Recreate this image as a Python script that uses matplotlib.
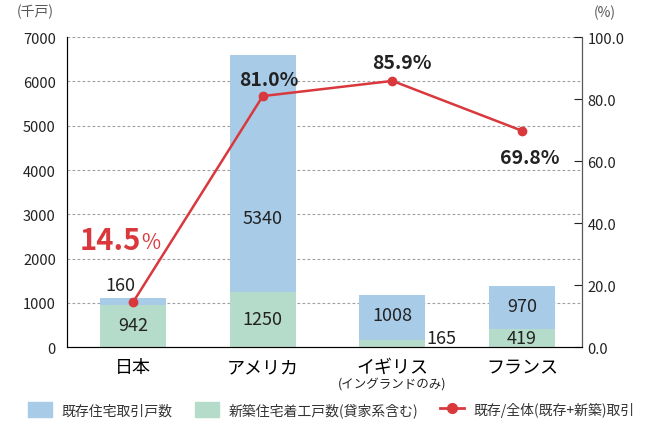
import matplotlib
matplotlib.use("Agg")
import matplotlib.pyplot as plt
from matplotlib.lines import Line2D
from matplotlib.patches import Patch

plt.rcParams['font.family'] = ['Noto Sans CJK JP', 'DejaVu Sans']

countries = ['日本', 'アメリカ', 'イギリス', 'フランス']
new_built = [942, 1250, 165, 419]
existing = [160, 5340, 1008, 970]
ratio = [14.5, 81.0, 85.9, 69.8]

blue = '#a8cbe8'
green = '#b5dcca'
red = '#d9383c'

fig = plt.figure(figsize=(6.5, 4.39), dpi=100)
ax = fig.add_axes([0.103, 0.207, 0.792, 0.706])
x = list(range(len(countries)))
w = 0.51

ax.bar(x, new_built, w, color=green, zorder=2)
ax.bar(x, existing, w, bottom=new_built, color=blue, zorder=2)
ax.set_xlim(-0.51, 3.46)
ax.set_ylim(0, 7000)
ax.set_yticks(range(0, 7001, 1000))
ax.yaxis.grid(True, linestyle=(0, (2.5, 2)), color='#a0a0a0', linewidth=0.8, zorder=0)
ax.tick_params(axis='y', length=0, labelsize=10.5, pad=8, colors='#222222')
ax.tick_params(axis='x', length=0, labelsize=13, pad=8)
ax.set_xticks(x)
ax.set_xticklabels(countries)
ax.spines['top'].set_visible(False)
for s in ['left', 'right', 'bottom']:
    ax.spines[s].set_color('#555555')

# bar values
lab = dict(fontsize=13, color='#222222', ha='center', va='center', zorder=5)
ax.text(0, new_built[0] / 2 + 20, str(new_built[0]), **lab)
ax.text(-0.1, new_built[0] + existing[0] + 290, str(existing[0]), **lab)
ax.text(1, new_built[1] / 2 + 20, str(new_built[1]), **lab)
ax.text(1, new_built[1] + existing[1] / 2 - 1000, str(existing[1]), **lab)
ax.text(2, new_built[2] + 550, str(existing[2]), **lab)
ax.text(2.38, 210, str(new_built[2]), **lab)
ax.text(3, new_built[3] + 500, str(existing[3]), **lab)
ax.text(3, new_built[3] / 2 - 10, str(new_built[3]), **lab)
ax.text(2, -800, '(イングランドのみ)', fontsize=9, ha='center', va='center', color='#222222')

ax2 = ax.twinx()
ax2.set_ylim(0, 100)
ax2.set_yticks(range(0, 101, 20))
ax2.set_yticklabels([f'{v:.1f}' for v in range(0, 101, 20)])
ax2.tick_params(axis='y', direction='in', length=6, labelsize=10.5, colors='#222222', pad=4)
ax2.spines['top'].set_visible(False)
ax2.spines['right'].set_color('#555555')
ax2.plot(x, ratio, color=red, linewidth=1.8, marker='o', markersize=6, zorder=4)

ax2.text(1.05, ratio[1] + 5.5, f'{ratio[1]:.1f}%', fontsize=14, fontweight='bold',
         ha='center', va='center', color='#222222')
ax2.text(2.07, ratio[2] + 5.8, f'{ratio[2]:.1f}%', fontsize=14, fontweight='bold',
         ha='center', va='center', color='#222222')
ax2.text(3.06, ratio[3] - 8.6, f'{ratio[3]:.1f}%', fontsize=14, fontweight='bold',
         ha='center', va='center', color='#222222')
ax2.text(0.06, 34.5, f'{ratio[0]:.1f}', fontsize=21, fontweight='bold',
         ha='right', va='center', color=red)
ax2.text(0.06, 33.8, '%', fontsize=15, ha='left', va='center', color=red)

fig.text(0.055, 0.972, '(千戸)', fontsize=10, color='#555555', ha='center', va='center')
fig.text(0.93, 0.97, '(%)', fontsize=10, color='#555555', ha='center', va='center')

handles = [Patch(color=blue), Patch(color=green),
           Line2D([0], [0], color=red, linewidth=2, marker='o', markersize=7)]
labels = ['既存住宅取引戸数', '新築住宅着工戸数(貸家系含む)', '既存/全体(既存+新築)取引']
fig.legend(handles, labels, loc='center', bbox_to_anchor=(0.51, 0.065), ncol=3,
           frameon=False, fontsize=10, handlelength=1.7, handleheight=1.3,
           columnspacing=1.6, handletextpad=0.7, labelcolor='#333333')

fig.savefig('out.png', dpi=100)
